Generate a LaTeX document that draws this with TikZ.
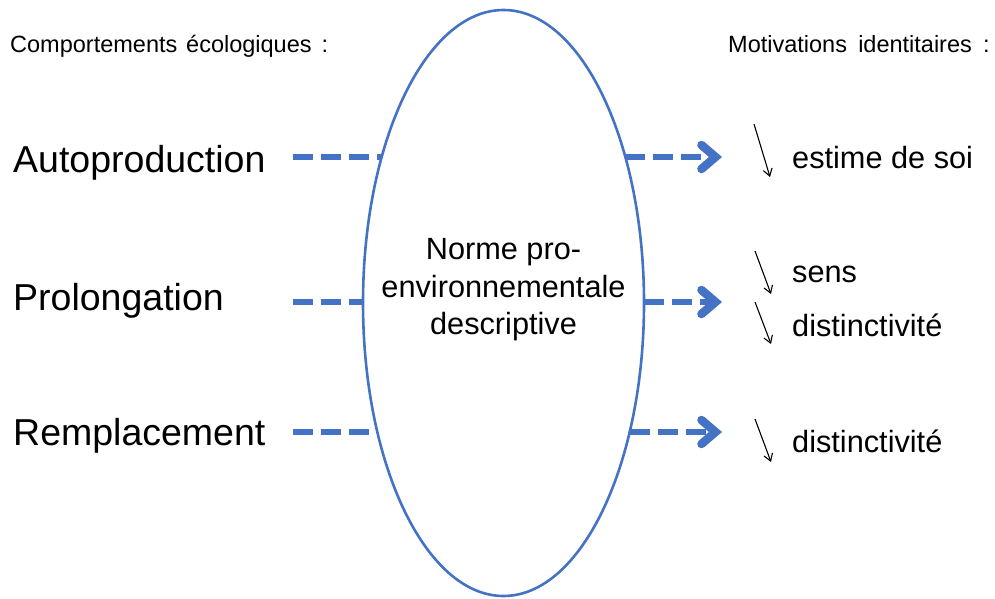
\documentclass[tikz,border=0pt]{standalone}
\usepackage{fontspec}
\setmainfont{Liberation Sans}
\usetikzlibrary{shapes.geometric,arrows.meta}
\definecolor{bl}{RGB}{68,114,196}
\tikzset{
  dashline/.style={draw=bl,line width=6.5pt,dash pattern=on 20pt off 8pt},
  dasharrow/.style={dashline,-{Straight Barb[length=14pt,width=24pt,line width=8.5pt,line cap=round]}},
  smallarrow/.style={draw=black,line width=1.1pt,-{Straight Barb[length=7pt,width=9pt]}},
  hdr/.style={font=\fontsize{23.5}{28}\selectfont,anchor=base west,inner sep=0pt},
  lbl/.style={font=\fontsize{37.5}{44}\selectfont,anchor=base west,inner sep=0pt},
  rlbl/.style={font=\fontsize{30.7}{37}\selectfont,anchor=base west,inner sep=0pt},
}
\begin{document}
\begin{tikzpicture}[x=1pt,y=-1pt]
\useasboundingbox (0,0) rectangle (995,599);
% ellipse
\node[ellipse,draw=bl,line width=2.6pt,minimum width=281pt,minimum height=586pt,inner sep=0pt] (ell) at (503.5,303) {};
\node[align=center,font=\fontsize{30.7}{37.5}\selectfont,inner sep=0pt] (norme) at (503.5,290) {Norme pro-\\environnementale\\descriptive};
% headers
\node[hdr] (h1) at (10,53) {Comportements\hspace{0.1em} écologiques\hspace{0.15em} :};
\node[hdr] (h2) at (728,53) {Motivations\hspace{0.2em} identitaires\hspace{0.2em} :};
% left labels
\node[lbl] (auto) at (13,172) {Autoproduction};
\node[lbl] (prol) at (13,310) {Prolongation};
\node[lbl] (remp) at (13,445) {Remplacement};
% coordinates for connectors
\coordinate (a1) at (293,157);
\coordinate (e1l) at (381.7,157);
\coordinate (e1r) at (625.3,157);
\coordinate (t1) at (722,157);
\coordinate (a2) at (293,302);
\coordinate (e2l) at (363,302);
\coordinate (e2r) at (644,302);
\coordinate (t2) at (722,302);
\coordinate (a3) at (293,432);
\coordinate (e3l) at (377.3,432);
\coordinate (e3r) at (629.7,432);
\coordinate (t3) at (722,432);
\draw[dashline] (a1) -- (e1l);
\draw[dashline] (a2) -- (e2l);
\draw[dashline] (a3) -- (e3l);
\draw[dasharrow] (e1r) -- (t1);
\draw[dasharrow] (e2r) -- (t2);
\draw[dasharrow] (e3r) -- (t3);
% right labels
\node[rlbl] (est) at (792,168) {estime de soi};
\node[rlbl] (sens) at (792,282) {sens};
\node[rlbl] (dist1) at (792,336) {distinctivité};
\node[rlbl] (dist2) at (792,452) {distinctivité};
% small arrows
\coordinate (s1a) at (754,124);
\coordinate (s1b) at (770,177);
\coordinate (s2a) at (755,251);
\coordinate (s2b) at (771,294);
\coordinate (s3a) at (755,302);
\coordinate (s3b) at (771,344);
\coordinate (s4a) at (755,419);
\coordinate (s4b) at (771,462);
\draw[smallarrow] (s1a) -- (s1b);
\draw[smallarrow] (s2a) -- (s2b);
\draw[smallarrow] (s3a) -- (s3b);
\draw[smallarrow] (s4a) -- (s4b);
\end{tikzpicture}
\end{document}
